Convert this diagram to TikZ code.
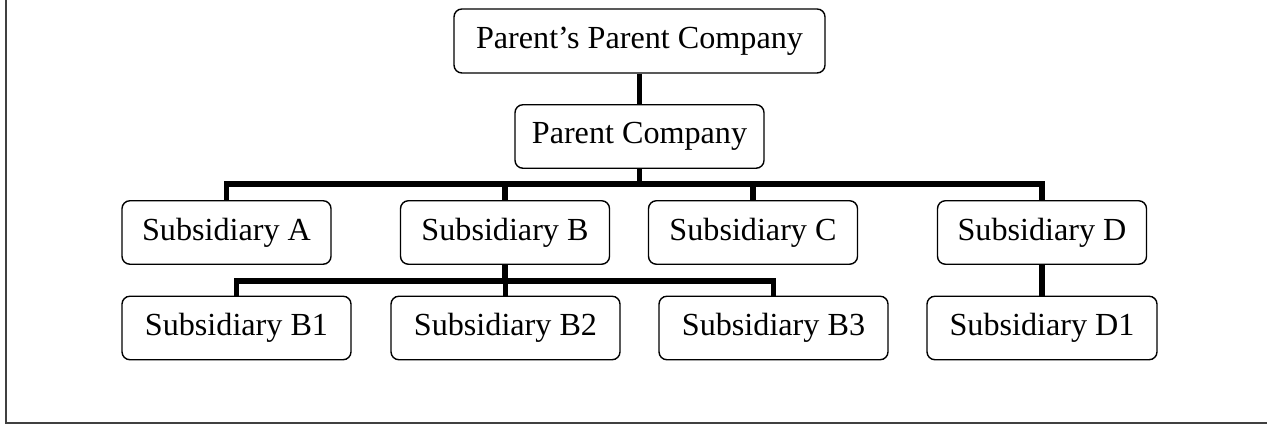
\documentclass[tikz,border=0pt]{standalone}
\usepackage{fontspec}
\setmainfont{Liberation Serif}
\usepackage{tikz}
\usetikzlibrary{calc,positioning}

\begin{document}
\begin{tikzpicture}[
 every node/.style={font=\fontsize{18.3}{20}\selectfont,align=center},
 box/.style={rounded corners=4.5pt,draw=black,line width=0.8pt,minimum height=1.27cm,minimum width=4.18cm,inner sep=4pt},
 subbox/.style={box,minimum width=4.58cm},
 link/.style={line width=3pt,line join=miter},
 frame/.style={draw=black!75,line width=1pt}]
\useasboundingbox (0,0) rectangle (25.34,-8.5);
\draw[frame] (0.12,0) -- (0.12,-8.46) -- (25.34,-8.46);
\node[box, minimum width=7.42cm, minimum height=1.28cm] (ppc) at (12.79,-0.82) {Parent’s Parent Company};
\node[box, minimum width=4.98cm] (pc) at (12.79,-2.73) {Parent Company};
\node[box] (suba) at (4.53,-4.65) {Subsidiary A};
\node[box] (subb) at (10.10,-4.65) {Subsidiary B};
\node[box] (subc) at (15.06,-4.65) {Subsidiary C};
\node[box] (subd) at (20.84,-4.65) {Subsidiary D};
\node[subbox] (subb1) at (4.73,-6.56) {Subsidiary B1};
\node[subbox] (subb2) at (10.11,-6.56) {Subsidiary B2};
\node[subbox] (subb3) at (15.47,-6.56) {Subsidiary B3};
\node[subbox, minimum width=4.60cm] (subd1) at (20.84,-6.56) {Subsidiary D1};
\coordinate (bus) at (12.79,-3.68);
\coordinate (busb) at (10.10,-5.62);
\draw[link] (ppc.south) -- (pc.north);
\draw[link] (pc.south) -- (bus);
\draw[link] (suba.north) |- (bus) -| (subd.north);
\draw[link] (subb.north) -- (subb.north |- bus);
\draw[link] (subc.north) -- (subc.north |- bus);
\draw[link] (subb.south) -- (busb);
\draw[link] (subb1.north) |- (busb) -| (subb3.north);
\draw[link] (subb2.north) -- (subb2.north |- busb);
\draw[link] (subd.south) -- (subd1.north);
\end{tikzpicture}
\end{document}
